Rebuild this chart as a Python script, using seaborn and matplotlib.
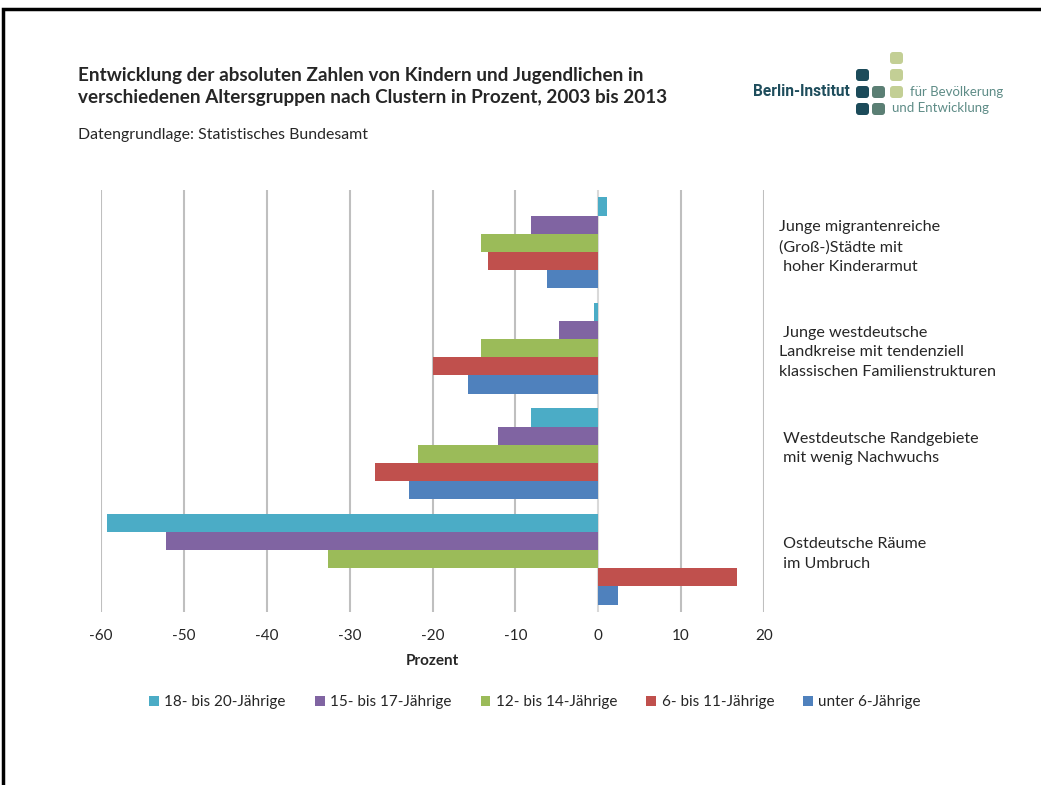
import pandas as pd
import seaborn as sns
import matplotlib.pyplot as plt
from matplotlib.patches import FancyBboxPatch
from matplotlib.lines import Line2D

# Cluster labels (right side of the chart)
clusters = [
    "Junge migrantenreiche\n(Groß-)Städte mit\n hoher Kinderarmut",
    " Junge westdeutsche\nLandkreise mit tendenziell\nklassischen Familienstrukturen",
    " Westdeutsche Randgebiete\n mit wenig Nachwuchs\n ",
    " Ostdeutsche Räume\n im Umbruch\n ",
]
age_groups = ["18- bis 20-Jährige", "15- bis 17-Jährige", "12- bis 14-Jährige",
              "6- bis 11-Jährige", "unter 6-Jährige"]

# Change 2003-2013 in percent
v18_20 = [1.1, -0.5, -8.1, -59.3]
v15_17 = [-8.1, -4.7, -12.1, -52.1]
v12_14 = [-14.1, -14.1, -21.7, -32.6]
v6_11 = [-13.3, -20.0, -26.9, 16.8]
v_u6 = [-6.2, -15.7, -22.8, 2.4]

colors = ["#4bacc6", "#8064a2", "#9bbb59", "#c0504d", "#4f81bd"]
xticks = [-60, -50, -40, -30, -20, -10, 0, 10, 20]

rows = []
for grp, vals in zip(age_groups, [v18_20, v15_17, v12_14, v6_11, v_u6]):
    for cl, v in zip(clusters, vals):
        rows.append({"Cluster": cl, "Altersgruppe": grp, "Prozent": v})
df = pd.DataFrame(rows)

sns.set_style("white")
plt.rcParams['font.family'] = ['Lato', 'DejaVu Sans']

W, H = 1041, 785
fig = plt.figure(figsize=(W / 100, H / 100), dpi=100)
ax = fig.add_axes([101 / W, 1 - 612 / H, 663 / W, 422 / H])

for t in xticks:
    ax.axvline(t, color="#d9d9d9" if t == 0 else "#bfbfbf", lw=1.5, zorder=0)

sns.barplot(data=df, x="Prozent", y="Cluster", hue="Altersgruppe",
            hue_order=age_groups, palette=colors, orient="h", width=0.86,
            saturation=1, linewidth=0, ax=ax, zorder=2)

ax.set_xlim(-60, 20)
ax.set_ylim(3.5, -0.5)
ax.set_xticks(xticks)
ax.set_xticklabels([str(t) for t in xticks], fontsize=11)
ax.set_xlabel("Prozent", fontsize=11, fontweight="bold", labelpad=8)
ax.set_ylabel("")
ax.yaxis.tick_right()
ax.tick_params(axis="y", length=0, pad=11, labelsize=11.6)
ax.tick_params(axis="x", length=0, pad=12)
for lab in ax.get_yticklabels():
    lab.set_linespacing(1.5)
for s in ax.spines.values():
    s.set_visible(False)

handles, labels = ax.get_legend_handles_labels()
ax.get_legend().remove()
fig.legend(handles, labels, ncol=5, loc="center",
           bbox_to_anchor=(535 / W, 1 - 702 / H), frameon=False,
           fontsize=11, handlelength=0.65, handleheight=0.65,
           handletextpad=0.35, columnspacing=1.9)

# overlay in pixel coordinates for header, logo and frame
ov = fig.add_axes([0, 0, 1, 1], zorder=-1)
ov.set_xlim(0, W)
ov.set_ylim(H, 0)
ov.axis("off")

ov.text(78, 75, "Entwicklung der absoluten Zahlen von Kindern und Jugendlichen in",
        fontsize=13.6, fontweight="bold", va="center", ha="left")
ov.text(78, 98, "verschiedenen Altersgruppen nach Clustern in Prozent, 2003 bis 2013",
        fontsize=13.6, fontweight="bold", va="center", ha="left")
ov.text(78, 135, "Datengrundlage: Statistisches Bundesamt", fontsize=11.4,
        va="center", ha="left")

# logo
sq = [(896.5, 58, "#c3cf95"), (896.5, 75, "#c3cf95"), (896.5, 92, "#c3cf95"),
      (862.5, 75, "#1c4b5a"), (862.5, 92, "#1c4b5a"), (862.5, 109, "#1c4b5a"),
      (878.5, 92, "#5b7f74"), (878.5, 109, "#5b7f74")]
for cx, cy, c in sq:
    ov.add_patch(FancyBboxPatch((cx - 5, cy - 4.5), 10, 9,
                                boxstyle="round,pad=1.5,rounding_size=3",
                                fc=c, ec="none"))
ov.text(850, 92, "Berlin-Institut", fontsize=11.2, fontweight="bold",
        color="#1e4d5c", ha="right", va="center",
        family=["Liberation Sans Narrow", "Roboto", "DejaVu Sans"])
ov.text(910, 92, "für Bevölkerung", fontsize=9.5, color="#5e8c87",
        ha="left", va="center")
ov.text(892, 108, "und Entwicklung", fontsize=9.5, color="#5e8c87",
        ha="left", va="center")

# frame on top and left edge
ov.add_line(Line2D([3, 3, W], [H, 9, 9], color="black", lw=2.5,
                   solid_joinstyle="miter"))

fig.savefig("out.png", dpi=100)
